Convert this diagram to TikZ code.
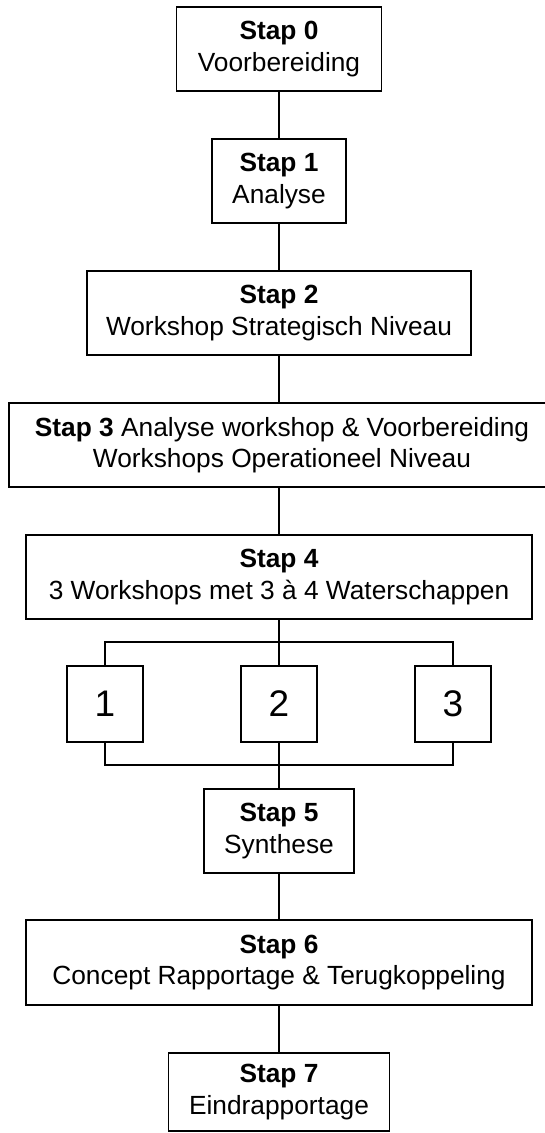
\documentclass[tikz,border=0pt]{standalone}
\usepackage{fontspec}
\setmainfont{Liberation Sans}
\begin{document}
\begin{tikzpicture}[x=1pt,y=-1pt,
  stepbox/.style={draw=black, line width=1.3pt, fill=white, inner sep=0pt, align=center,
    font=\fontsize{26.3}{31.6}\selectfont},
  numbox/.style={draw=black, line width=1.6pt, fill=white, inner sep=0pt,
    minimum width=76pt, minimum height=76pt, font=\fontsize{37}{40}\selectfont},
  link/.style={line width=1.3pt},
  bracket/.style={line width=1.7pt}]
\useasboundingbox (0,0) rectangle (544,1133);
\fill[white] (0,0) rectangle (544,1133);

\node[stepbox, minimum width=205pt, minimum height=84pt] (b0) at (279,49) {\textbf{Stap 0}\\Voorbereiding};
\node[stepbox, minimum width=134pt, minimum height=84pt] (b1) at (279,181) {\textbf{Stap 1}\\Analyse};
\node[stepbox, minimum width=384pt, minimum height=84pt] (b2) at (279,313) {\textbf{Stap 2}\\Workshop Strategisch Niveau};
\node[stepbox, minimum width=546pt, minimum height=84pt] (b3) at (282,445) {\textbf{Stap 3} Analyse workshop \& Voorbereiding\\Workshops Operationeel Niveau};
\node[stepbox, minimum width=506pt, minimum height=84pt] (b4) at (279,577) {\textbf{Stap 4}\\3 Workshops met 3 à 4 Waterschappen};
\node[numbox] (w1) at (105,704) {1};
\node[numbox] (w2) at (279,704) {2};
\node[numbox] (w3) at (453,704) {3};
\node[stepbox, minimum width=150pt, minimum height=84pt] (b5) at (279,831) {\textbf{Stap 5}\\Synthese};
\node[stepbox, minimum width=506pt, minimum height=85pt] (b6) at (279,962.5) {\textbf{Stap 6}\\Concept Rapportage \& Terugkoppeling};
\node[stepbox, minimum width=221pt, minimum height=78pt] (b7) at (279,1092) {\textbf{Stap 7}\\Eindrapportage};

\coordinate (tb) at (279,642);
\coordinate (bb) at (279,765);

\draw[link] (b0.south) -- (b1.north);
\draw[link] (b1.south) -- (b2.north);
\draw[link] (b2.south) -- (b3.north -| b2.south);
\draw[link] (b3.south -| b4.north) -- (b4.north);
\draw[bracket] (b4.south) -- (w2.north);
\draw[bracket] (w1.north) -- (w1.north |- tb) -- (w3.north |- tb) -- (w3.north);
\draw[bracket] (w2.south) -- (b5.north);
\draw[bracket] (w1.south) -- (w1.south |- bb) -- (w3.south |- bb) -- (w3.south);
\draw[link] (b5.south) -- (b6.north);
\draw[link] (b6.south) -- (b7.north);
\end{tikzpicture}
\end{document}
